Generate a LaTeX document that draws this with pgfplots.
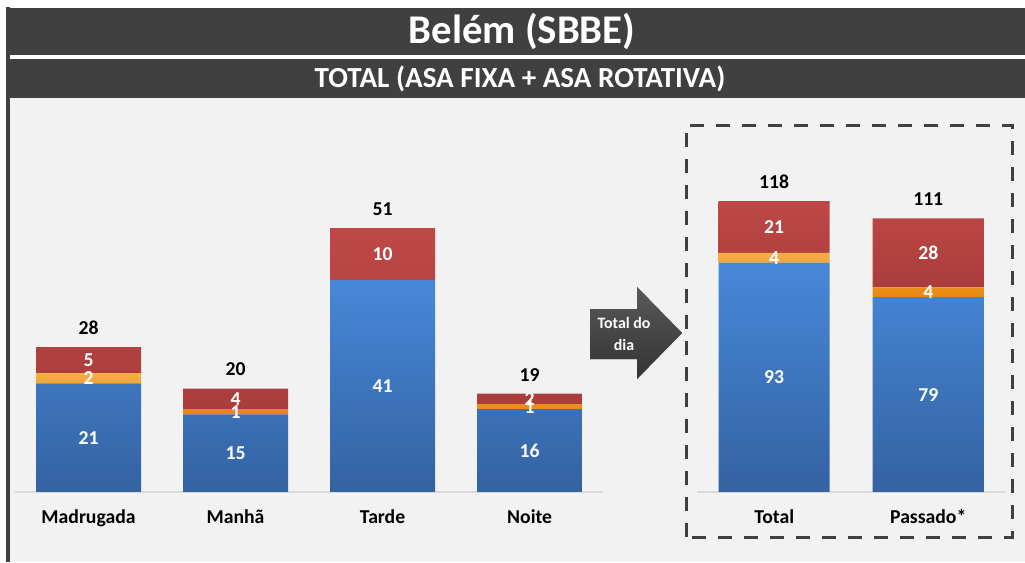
\documentclass[border=0pt]{standalone}
\usepackage{pgfplots}
\pgfplotsset{compat=1.18}
\usepackage{fontspec}
\setmainfont{Carlito}
\definecolor{dark}{HTML}{404040}
\definecolor{bg}{HTML}{F2F2F2}
\definecolor{blueT}{HTML}{4788D8}
\definecolor{blueB}{HTML}{3462A2}
\definecolor{redT}{HTML}{BE4846}
\definecolor{redB}{HTML}{AA3D3C}
\definecolor{orT}{HTML}{F6AE45}
\definecolor{orB}{HTML}{E8860F}
\pgfplotsset{
  base/.style={scale only axis, anchor=south west, ymin=0, clip=false,
    axis y line=none, axis x line*=bottom,
    x axis line style={draw=black!15, line width=1pt, -},
    major tick length=0pt, ytick=\empty,
    xticklabel style={anchor=base, yshift=-0.8cm, font=\fontsize{14}{16}\selectfont\bfseries, text=black}},
  lab/.style={scale only axis, anchor=south west, ymin=0, clip=false, hide axis},
  seg/.style={draw=none, mark=none, nodes near coords, point meta=explicit symbolic,
    every node near coord/.append style={anchor=center, text=white, font=\fontsize{14}{16}\selectfont\bfseries}},
  tot/.style={draw=none, mark=none, nodes near coords, point meta=explicit symbolic,
    every node near coord/.append style={anchor=center, yshift=0.475cm, text=black, font=\fontsize{14}{16}\selectfont\bfseries}},
}
\begin{document}
\begin{tikzpicture}
\begin{scope}[x=0.025cm, y=0.025cm]
\fill[white] (0,0) rectangle (1025,562);
\fill[bg] (10,0) rectangle (1025,464);
\fill[dark] (6,0) rectangle (10,555);
\fill[dark] (10,507.3) rectangle (1025,554);
\fill[dark] (10,464) rectangle (1025,503);
\node[text=white, font=\fontsize{29}{32}\selectfont\bfseries] at (522,531) {Belém (SBBE)};
\node[text=white, font=\fontsize{20.7}{24}\selectfont\bfseries] at (520,483.5) {TOTAL (ASA FIXA + ASA ROTATIVA)};
% dashed box
\draw[dark, line width=0.075cm, dash pattern=on 0.35cm off 0.3cm] (686,25) rectangle (1012,437);
% arrow
\fill[dark, top color=black!65, bottom color=black!80] (590,253) -- (637,253) -- (637,275) -- (682,229) -- (637,183) -- (637,203) -- (590,203) -- cycle;
\node[text=white, align=center, font=\fontsize{11.3}{15}\selectfont\bfseries] at (624,228) {Total do\\dia};
\end{scope}

% left stacked
\begin{axis}[base, at={(0.375cm,1.75cm)}, width=14.7cm, height=9.05cm,
  xmin=-0.5, xmax=3.5, ymax=70, ybar stacked, bar width=2.625cm,
  xtick={0,1,2,3}, xticklabels={Madrugada, Manhã, Tarde, Noite}]
\addplot[draw=none, top color=blueT, bottom color=blueB] coordinates {(0,21) (1,15) (2,41) (3,16)};
\addplot[draw=none, top color=orT, bottom color=orB] coordinates {(0,2) (1,1) (2,0) (3,1)};
\addplot[draw=none, top color=redT, bottom color=redB] coordinates {(0,5) (1,4) (2,10) (3,2)};
\end{axis}
\begin{axis}[lab, at={(0.375cm,1.75cm)}, width=14.7cm, height=9.05cm,
  xmin=-0.5, xmax=3.5, ymax=70]
\addplot[seg] coordinates {(0,10.5)[21] (1,7.5)[15] (2,20.5)[41] (3,8)[16]};
\addplot[seg] coordinates {(0,22)[2] (1,15.5)[1] (3,16.5)[1]};
\addplot[seg] coordinates {(0,25.5)[5] (1,18)[4] (2,46)[10] (3,18)[2]};
\addplot[tot] coordinates {(0,28)[28] (1,20)[20] (2,51)[51] (3,19)[19]};
\end{axis}

% right stacked
\begin{axis}[base, at={(17.425cm,1.75cm)}, width=7.7cm, height=9.244cm,
  xmin=-0.5, xmax=1.5, ymax=150, ybar stacked, bar width=2.775cm,
  xtick={0,1}, xticklabels={Total, Passado*}]
\addplot[draw=none, top color=blueT, bottom color=blueB] coordinates {(0,93) (1,79)};
\addplot[draw=none, top color=orT, bottom color=orB] coordinates {(0,4) (1,4)};
\addplot[draw=none, top color=redT, bottom color=redB] coordinates {(0,21) (1,28)};
\end{axis}
\begin{axis}[lab, at={(17.425cm,1.75cm)}, width=7.7cm, height=9.244cm,
  xmin=-0.5, xmax=1.5, ymax=150]
\addplot[seg] coordinates {(0,46.5)[93] (1,39.5)[79]};
\addplot[seg] coordinates {(0,95)[4] (1,81)[4]};
\addplot[seg] coordinates {(0,107.5)[21] (1,97)[28]};
\addplot[tot] coordinates {(0,118)[118] (1,111)[111]};
\end{axis}
\end{tikzpicture}
\end{document}
